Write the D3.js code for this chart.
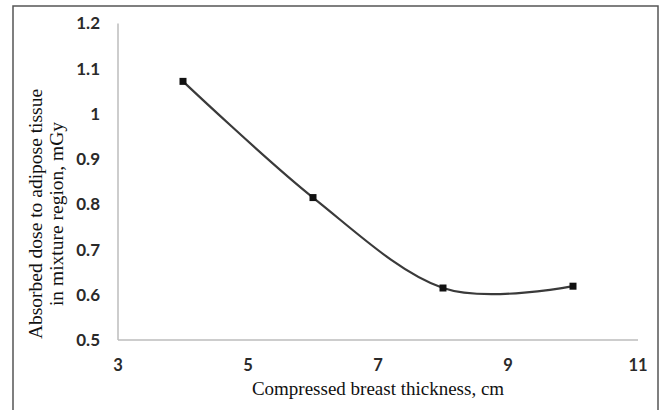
<!DOCTYPE html>
<html>
<head>
<meta charset="utf-8">
<script src="https://cdn.jsdelivr.net/npm/d3@7"></script>
<style>
  body { margin: 0; background: #fff; }
  svg { display: block; }
</style>
</head>
<body>
<div id="vis"></div>
<script>
// data
const thickness = [4, 6, 8, 10];
const dose = [1.072, 0.815, 0.615, 0.619];
const xTicks = [3, 5, 7, 9, 11];
const yTicks = [0.5, 0.6, 0.7, 0.8, 0.9, 1, 1.1, 1.2];

const width = 661, height = 410;
const svg = d3.select('#vis')
  .append('svg')
  .attr('width', width)
  .attr('height', height);

svg.append('rect')
  .attr('width', width)
  .attr('height', height)
  .attr('fill', '#fff');

// outer frame (no bottom edge visible)
svg.append('path')
  .attr('d', 'M13,412 L13,6 L658,6 L658,412')
  .attr('fill', 'none')
  .attr('stroke', '#555')
  .attr('stroke-width', 1.5);

const x = d3.scaleLinear().domain([3, 11]).range([118, 638]);
const y = d3.scaleLinear().domain([0.5, 1.2]).range([340, 23.5]);

// axis lines
svg.append('line')
  .attr('x1', x(3)).attr('x2', x(3))
  .attr('y1', y(1.2)).attr('y2', y(0.5))
  .attr('stroke', '#bdbdbd').attr('stroke-width', 1.5);
svg.append('line')
  .attr('x1', x(3)).attr('x2', x(11))
  .attr('y1', y(0.5)).attr('y2', y(0.5))
  .attr('stroke', '#bdbdbd').attr('stroke-width', 1.5);

// tick labels
svg.selectAll('.ytick')
  .data(yTicks)
  .enter()
  .append('text')
  .attr('class', 'ytick')
  .attr('x', 100)
  .attr('y', d => y(d))
  .attr('dy', '0.35em')
  .attr('text-anchor', 'end')
  .attr('font-family', 'Lato, sans-serif')
  .attr('font-weight', 'bold')
  .attr('font-size', 17)
  .attr('fill', '#2a2a2a')
  .text(d => d);

svg.selectAll('.xtick')
  .data(xTicks)
  .enter()
  .append('text')
  .attr('class', 'xtick')
  .attr('x', d => x(d))
  .attr('y', 365)
  .attr('dy', '0.35em')
  .attr('text-anchor', 'middle')
  .attr('font-family', 'Lato, sans-serif')
  .attr('font-weight', 'bold')
  .attr('font-size', 16.5)
  .attr('fill', '#2a2a2a')
  .text(d => d);

// axis titles
svg.append('text')
  .attr('x', (x(3) + x(11)) / 2)
  .attr('y', 388)
  .attr('dy', '0.35em')
  .attr('text-anchor', 'middle')
  .attr('font-family', '"Liberation Serif", serif')
  .attr('font-size', 19)
  .attr('fill', '#111')
  .text('Compressed breast thickness, cm');

const yTitle = svg.append('text')
  .attr('transform', 'translate(35,214) rotate(-90)')
  .attr('text-anchor', 'middle')
  .attr('font-family', '"Liberation Serif", serif')
  .attr('font-size', 19.5)
  .attr('fill', '#111');
yTitle.append('tspan').attr('x', 0).attr('dy', '0.35em').text('Absorbed dose to adipose tissue');
yTitle.append('tspan').attr('x', 0).attr('dy', 21).text('in mixture region, mGy');

// smoothed line
const points = thickness.map((t, i) => [t, dose[i]]);
const line = d3.line()
  .x(d => x(d[0]))
  .y(d => y(d[1]))
  .curve(d3.curveCatmullRom.alpha(0));

svg.append('path')
  .datum(points)
  .attr('d', line)
  .attr('fill', 'none')
  .attr('stroke', '#3a3a3a')
  .attr('stroke-width', 2.2);

// square markers
svg.selectAll('.marker')
  .data(points)
  .enter()
  .append('rect')
  .attr('class', 'marker')
  .attr('x', d => x(d[0]) - 3.5)
  .attr('y', d => y(d[1]) - 3.5)
  .attr('width', 7)
  .attr('height', 7)
  .attr('fill', '#111');
</script>
</body>
</html>
